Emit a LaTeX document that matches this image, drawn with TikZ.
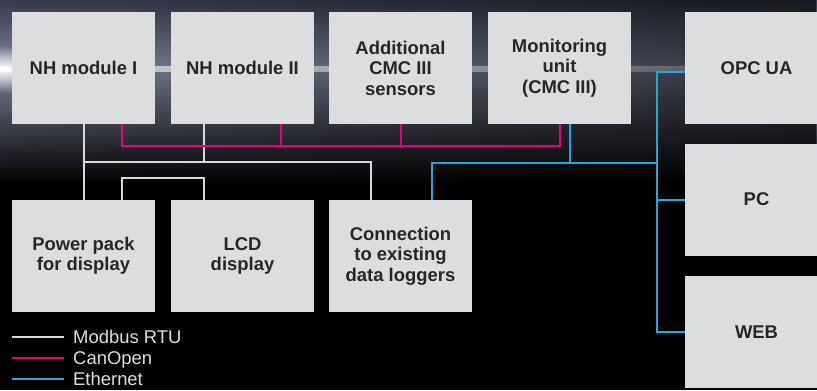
\documentclass[tikz,border=0pt]{standalone}
\usepackage{fontspec}
\setmainfont{Liberation Sans}
\usetikzlibrary{calc,fadings}

\definecolor{boxgray}{HTML}{DCDDDF}
\definecolor{boxtext}{HTML}{262626}
\definecolor{legendtext}{HTML}{DEDEDE}
\definecolor{linewhite}{HTML}{D9D9D9}
\definecolor{linemagenta}{HTML}{E5007D}
\definecolor{lineblue}{HTML}{21A6DE}
\definecolor{bgtop}{HTML}{363A4C}
\definecolor{bgband}{HTML}{7D8299}

\tikzfading[name=rightdark, left color=transparent!100, right color=transparent!40]
\tikzfading[name=streakfade, left color=transparent!30, right color=transparent!92]
\tikzfading[name=glow, inner color=transparent!0, outer color=transparent!100]

\begin{document}
\begin{tikzpicture}
    [
        x=1bp, y=-1bp,
        box/.style      = {fill=boxgray, minimum width=143bp, minimum height=112bp,
                           inner sep=0pt, align=center, text=boxtext,
                           font=\fontsize{18.5}{20.5}\selectfont\bfseries},
        bus/.style      = {line width=2bp},
        modbus/.style   = {bus, draw=linewhite},
        canopen/.style  = {bus, draw=linemagenta},
        ethernet/.style = {bus, draw=lineblue},
        legend/.style   = {anchor=base west, inner sep=0pt, text=legendtext,
                           font=\fontsize{18.5}{20.5}\selectfont}
    ]
    \clip (0,0) rectangle (817,390);
    % background
    \fill[black] (0,0) rectangle (817,390);
    \shade[top color=bgtop, bottom color=bgband] (0,0) rectangle (817,66);
    \shade[top color=bgband, bottom color=black] (0,66) rectangle (817,185);
    \fill[black, path fading=rightdark] (0,0) rectangle (817,185);
    \fill[white, path fading=streakfade] (0,66) rectangle (817,72);
    \fill[white, path fading=glow] (0,69) ellipse [x radius=80, y radius=24];

    % units
    \node[box] (nh1) at (83.5,68)  {NH module I};
    \node[box] (nh2) at (242.5,68) {NH module II};
    \node[box] (add) at (400.5,68) {Additional\\CMC III\\sensors};
    \node[box] (mon) at (559.5,68) {Monitoring\\unit\\(CMC III)};
    \node[box] (pp)   at (83.5,256)  {Power pack\\for display};
    \node[box] (lcd)  at (242.5,256) {LCD\\display};
    \node[box] (conn) at (400.5,256) {Connection\\to existing\\data loggers};
    \node[box] (opc) at (756.5,68)    {OPC UA};
    \node[box] (pc)  at (756.5,199.5) {PC};
    \node[box] (web) at (756.5,332)   {WEB};

    % Modbus RTU
    \coordinate (mbus) at (371,162);
    \draw[modbus] (nh1) -- (pp);
    \draw[modbus] (nh1.south |- mbus) -- (mbus) -- (mbus |- conn.north);
    \draw[modbus] ($(nh2.south)+(-38.5,0)$) -- ++(0,38);
    \draw[modbus] ($(pp.north)+(38.5,0)$) -- ++(0,-22) -| ($(lcd.north)+(-38.5,0)$);

    % CanOpen
    \draw[canopen] ($(nh1.south)+(38.5,0)$) |- ($(mon.south)+(0,22)$) -- (mon.south);
    \draw[canopen] ($(nh2.south)+(38.5,0)$) -- ++(0,22);
    \draw[canopen] (add.south) -- ++(0,22);

    % Ethernet
    \coordinate (ebus) at (657,163);
    \draw[ethernet] ($(conn.north)+(31.5,0)$) |- (ebus);
    \draw[ethernet] ($(mon.south)+(10.5,0)$) -- ++(0,39);
    \draw[ethernet] ($(opc.west)+(0,4)$) -| (ebus |- web.west) -- (web.west);
    \draw[ethernet] (pc.west) -- (ebus |- pc.west);

    % legend
    \foreach \lbl/\kind/\yt/\yl [count=\i] in
        {Modbus RTU/modbus/343/337, CanOpen/canopen/364/358, Ethernet/ethernet/385/379}
    {
        \node[legend] (key\i) at (73,\yt) {\lbl};
        \coordinate (keyA\i) at (12,\yl);
        \coordinate (keyB\i) at (64,\yl);
        \draw[\kind] (keyA\i) -- (keyB\i);
    }
\end{tikzpicture}
\end{document}
